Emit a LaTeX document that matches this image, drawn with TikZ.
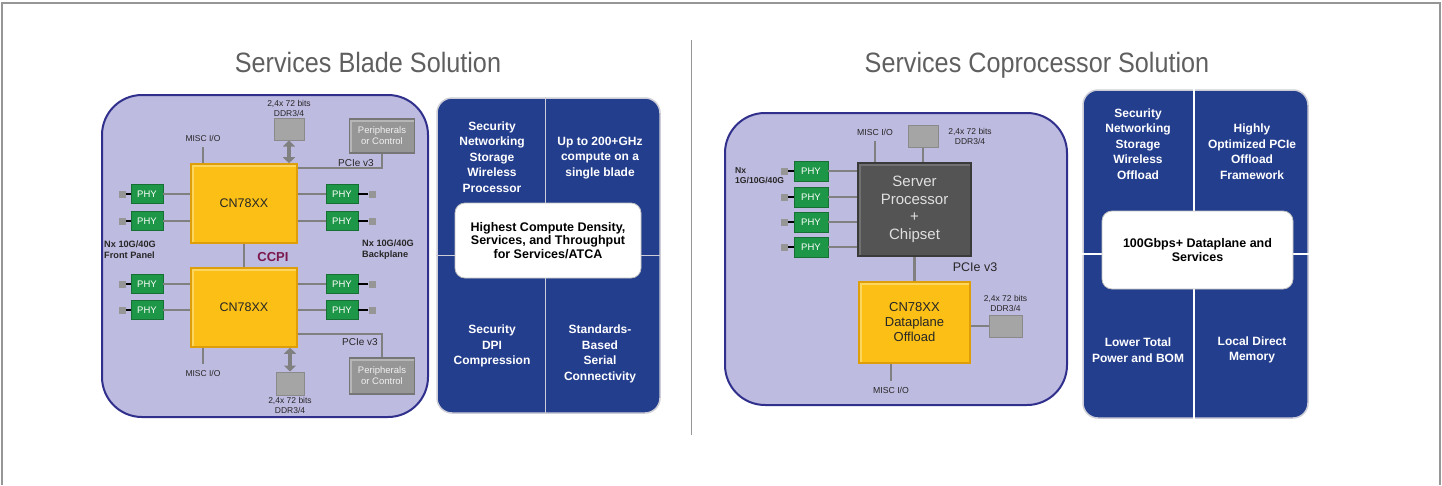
\documentclass[tikz,border=0pt]{standalone}
\usepackage{fontspec}
\setmainfont{Liberation Sans}
\newfontfamily\titlefont[FakeStretch=0.9]{Liberation Sans}
\usetikzlibrary{arrows.meta}
\usetikzlibrary{positioning}

\definecolor{lavender}{RGB}{190,187,224}
\definecolor{boardline}{RGB}{48,48,140}
\definecolor{tileblue}{RGB}{36,62,142}
\definecolor{tileedge}{RGB}{205,205,215}
\definecolor{chipyellow}{RGB}{251,191,22}
\definecolor{chipedge}{RGB}{222,158,10}
\definecolor{chiplight}{RGB}{253,214,96}
\definecolor{servergray}{RGB}{84,84,84}
\definecolor{serveredge}{RGB}{58,58,58}
\definecolor{serverlight}{RGB}{112,112,112}
\definecolor{phygreen}{RGB}{30,150,72}
\definecolor{phyedge}{RGB}{22,112,52}
\definecolor{linkgray}{RGB}{128,128,128}
\definecolor{ddrgray}{RGB}{165,165,165}
\definecolor{ddredge}{RGB}{138,138,138}
\definecolor{pergray}{RGB}{150,150,150}
\definecolor{peredge}{RGB}{118,118,118}
\definecolor{perlight}{RGB}{182,182,182}
\definecolor{ccpired}{RGB}{122,24,76}
\definecolor{titlegray}{RGB}{95,95,95}
\definecolor{framegray}{RGB}{150,150,150}

\tikzset{
  bevel/.style={path picture={\draw[#1, line width=5pt] (path picture bounding box.south west) -- (path picture bounding box.north west) -- (path picture bounding box.north east);}},
  link/.style={draw=linkgray, line width=2.5pt},
  plug/.style={draw=black, line width=1.2pt},
  port/.style={fill=pergray, minimum size=7pt, inner sep=0pt},
  phy/.style={fill=phygreen, draw=phyedge, line width=0.8pt, text=white, font=\fontsize{9.5}{10}\selectfont, minimum width=32pt, minimum height=19pt, inner sep=0pt},
  chip/.style={fill=chipyellow, draw=chipedge, line width=1.6pt, bevel=chiplight, text=black!85, align=center, inner sep=0pt},
  server/.style={fill=servergray, draw=serveredge, line width=2pt, bevel=serverlight, text=black!12, align=center, inner sep=0pt, font=\fontsize{15}{17.5}\selectfont},
  ddr/.style={fill=ddrgray, draw=ddredge, line width=1pt, inner sep=0pt},
  periph/.style={fill=pergray, draw=peredge, line width=1.6pt, bevel=perlight, text=black!6, align=center, inner sep=0pt, font=\fontsize{9.5}{11}\selectfont},
  lbl/.style={font=\fontsize{8.5}{9.5}\selectfont, text=black!85, align=center, inner sep=0pt},
  boldlbl/.style={font=\fontsize{9.2}{11}\selectfont\bfseries, text=black!85, align=left, inner sep=0pt, anchor=west},
  dblarrow/.style={draw=linkgray, line width=4.5pt, {Triangle[length=6pt,width=12pt]}-{Triangle[length=6pt,width=12pt]}},
  board/.style={fill=lavender, draw=boardline, line width=2pt, rounded corners=40pt, inner sep=0pt},
  tiles/.style={fill=tileblue, draw=tileedge, line width=1.5pt, rounded corners=15pt, inner sep=0pt},
  gap/.style={draw=tileedge, line width=1.5pt},
  hub/.style={fill=white, draw=black!25, line width=0.8pt, rounded corners=10pt, align=center, inner sep=0pt, font=\fontsize{12.5}{13.5}\selectfont\bfseries},
  tiletext/.style={text=white, align=center, inner sep=0pt, font=\fontsize{12}{15.5}\selectfont\bfseries},
  title/.style={font=\titlefont\fontsize{28}{30}\selectfont, text=titlegray, anchor=base}
}

\begin{document}
\begin{tikzpicture}[x=1pt,y=-1pt]
\useasboundingbox (0,0) rectangle (1442,485);
\draw[framegray, line width=1.5pt] (2,485) -- (2,3) -- (1440,3) -- (1440,485);
\draw[framegray, line width=1pt] (691,40) -- (691,435);

\node[title] (bladetitle) at (368,72) {Services Blade Solution};
\node[title] (coptitle) at (1037,72) {Services Coprocessor Solution};

% services blade
\node[board, minimum width=326, minimum height=322] (bladeboard) at (265,256) {};
\node[chip, minimum width=106, minimum height=79, font=\fontsize{12.5}{14}\selectfont] (chipA) at (244,203.5) {CN78XX};
\node[chip, minimum width=106, minimum height=79, font=\fontsize{12.5}{14}\selectfont] (chipB) at (244,307.5) {CN78XX};
\draw[link] (chipA) -- (chipB);
\node[font=\fontsize{13}{14}\selectfont\bfseries, text=ccpired] (ccpi) at (273,257) {CCPI};

\foreach \c/\y in {A/194,A/221,B/284,B/310} {
  \node[phy] (phyL\y) at (147,\y) {PHY};
  \node[phy] (phyR\y) at (342,\y) {PHY};
  \node[port] (portL\y) at (122,\y) {};
  \node[port] (portR\y) at (372,\y) {};
  \draw[link] (phyL\y) -- (phyL\y -| chip\c.west);
  \draw[link] (phyR\y) -- (phyR\y -| chip\c.east);
  \draw[plug] (portL\y) -- (phyL\y);
  \draw[plug] (portR\y) -- (phyR\y);
}

\node[lbl] (miscA) at (203,138) {MISC I/O};
\draw[link, shorten <=6pt] (miscA.south) -- (miscA.south |- chipA.north);
\node[lbl] (miscB) at (203,373) {MISC I/O};
\draw[link, shorten <=6pt] (miscB.north) -- (miscB.north |- chipB.south);

\node[ddr, minimum width=30, minimum height=22] (ddrA) at (289,129) {};
\node[lbl, above=1pt of ddrA] (ddrAlbl) {2,4x 72 bits\\DDR3/4};
\draw[dblarrow] (ddrA) -- (ddrA |- chipA.north);
\node[ddr, minimum width=28, minimum height=23] (ddrB) at (290,383.5) {};
\node[lbl, below=2pt of ddrB] (ddrBlbl) {2,4x 72 bits\\DDR3/4};
\draw[dblarrow] (ddrB) -- (ddrB |- chipB.south);

\node[periph, minimum width=65, minimum height=34] (perA) at (382,136) {Peripherals\\or Control};
\draw[link] ([yshift=-5pt]chipA.north east) -| (perA.south);
\node[lbl, font=\fontsize{10}{11}\selectfont] (pcieA) at (356,163) {PCIe v3};
\node[periph, minimum width=65, minimum height=36] (perB) at (382,376) {Peripherals\\or Control};
\draw[link] ([yshift=14pt]chipB.south east) -| (perB.north);
\node[lbl, font=\fontsize{10}{11}\selectfont] (pcieB) at (360,342) {PCIe v3};

\node[boldlbl] (frontlbl) at (104,250) {Nx 10G/40G\\Front Panel};
\node[boldlbl] (backlbl) at (362,250) {Nx 10G/40G\\Backplane};

\node[tiles, minimum width=223, minimum height=315] (bladetiles) at (548.5,255.5) {};
\draw[gap] ([xshift=-3pt]bladetiles.north) -- ([xshift=-3pt]bladetiles.south);
\draw[gap] (bladetiles.west) -- (bladetiles.east);
\node[hub, minimum width=186, minimum height=75] (bladehub) at (548,240.5) {Highest Compute Density,\\Services, and Throughput\\for Services/ATCA};
\foreach \x/\y/\txt [count=\i] in {492/157/{Security\\Networking\\Storage\\Wireless\\Processor},
    600/158/{Up to 200+GHz\\compute on a\\single blade},
    492/346/{Security\\DPI\\Compression},
    600/354/{Standards-\\Based\\Serial\\Connectivity}}
  \node[tiletext] (bladetile\i) at (\x,\y) {\txt};

% services coprocessor
\node[board, minimum width=342, minimum height=292] (copboard) at (896,259) {};
\node[server, minimum width=113, minimum height=93] (host) at (914.5,209.5) {Server\\Processor\\+\\Chipset};
\node[chip, minimum width=111, minimum height=81, font=\fontsize{13}{15}\selectfont] (chipC) at (914.5,322.5) {CN78XX\\Dataplane\\Offload};
\draw[link] (host) -- (chipC);
\node[lbl, font=\fontsize{12.5}{14}\selectfont] (pcieC) at (975,267) {PCIe v3};

\foreach \y in {171,197,222,247} {
  \node[phy, minimum width=34, minimum height=20] (phyC\y) at (811,\y) {PHY};
  \node[port] (portC\y) at (784,\y) {};
  \draw[link] (phyC\y) -- (phyC\y -| host.west);
  \draw[plug] (portC\y) -- (phyC\y);
}
\node[boldlbl, font=\fontsize{8.6}{9.5}\selectfont\bfseries] (nxlbl) at (735,175.5) {Nx\\1G/10G/40G};

\node[lbl, font=\fontsize{8.7}{9.5}\selectfont] (miscC) at (875,132) {MISC I/O};
\draw[link, shorten <=6pt] (miscC.south) -- (miscC.south |- host.north);
\node[lbl, font=\fontsize{8.7}{9.5}\selectfont] (miscD) at (891,390) {MISC I/O};
\draw[link, shorten <=6pt] (miscD.north) -- (miscD.north |- chipC.south);

\node[ddr, minimum width=30, minimum height=22] (ddrC) at (923,136) {};
\node[lbl] (ddrClbl) at (970,136.5) {2,4x 72 bits\\DDR3/4};
\draw[link] (ddrC) -- (ddrC |- host.north);
\node[ddr, minimum width=33, minimum height=22] (ddrD) at (1005.5,326) {};
\node[lbl, above=3pt of ddrD] (ddrDlbl) {2,4x 72 bits\\DDR3/4};
\draw[link] (ddrD) -- (ddrD -| chipC.east);

\node[tiles, minimum width=225, minimum height=328] (coptiles) at (1195.5,254) {};
\draw[gap, draw=white] ([xshift=-1.5pt]coptiles.north) -- ([xshift=-1.5pt]coptiles.south);
\draw[gap, draw=white] (coptiles.west) -- (coptiles.east);
\node[hub, minimum width=191, minimum height=78] (cophub) at (1197.5,250) {100Gbps+ Dataplane and\\Services};
\foreach \x/\y/\txt [count=\i] in {1138/144/{Security\\Networking\\Storage\\Wireless\\Offload},
    1252/151.5/{Highly\\Optimized PCIe\\Offload\\Framework},
    1138/350/{Lower Total\\Power and BOM},
    1252/350/{Local Direct\\Memory}}
  \node[tiletext] (coptile\i) at (\x,\y) {\txt};
\end{tikzpicture}
\end{document}
